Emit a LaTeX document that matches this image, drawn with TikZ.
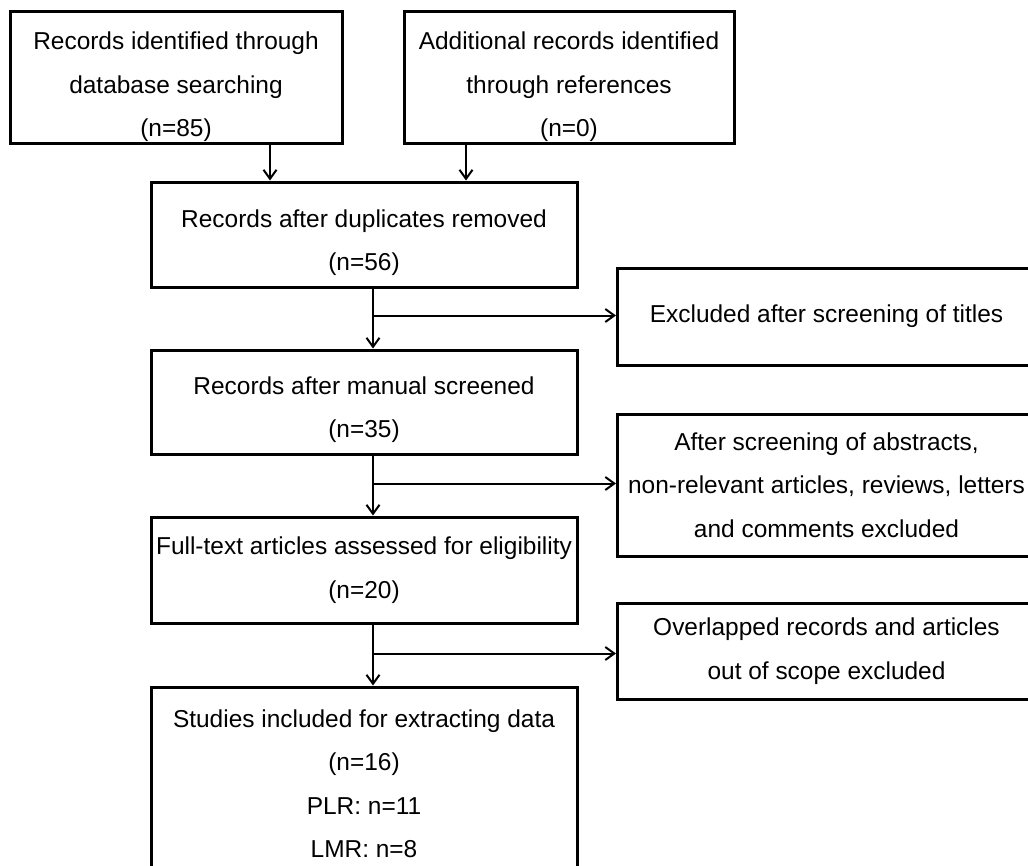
\documentclass[tikz,border=0pt]{standalone}
\usepackage{fontspec}
\setmainfont{Liberation Sans}
\usetikzlibrary{arrows.meta}
\newcommand\dropby[1]{\rule{0pt}{#1}}

\begin{document}
\begin{tikzpicture}[x=1pt,y=-1pt,every text node part/.style={align=center},
		box/.style={draw,line width=3pt,inner sep=0pt,font=\fontsize{24.45}{43.5}\selectfont},
		sidebox/.style={box,minimum width=418pt,anchor=west},
		arr/.style={line width=2pt,-{Straight Barb[length=9pt,width=13pt]}}]
		\useasboundingbox (0,0) rectangle (1028,865);
		\clip (0,0) rectangle (1028,865);
		% identification
		\node[box,minimum width=332pt,minimum height=132pt] (idb) at (176,77) {\dropby{38pt}Records identified through\\database searching\\(n=85)};
		\node[box,minimum width=330pt,minimum height=132pt] (iref) at (569,77) {\dropby{38pt}Additional records identified\\through references\\(n=0)};
		% main column
		\node[box,minimum width=426pt,minimum height=105pt] (dup) at (364,234.5) {\dropby{34pt}Records after duplicates removed\\(n=56)};
		\node[box,minimum width=426pt,minimum height=104pt] (screen) at (364,402) {\dropby{33pt}Records after manual screened\\(n=35)};
		\node[box,minimum width=426pt,minimum height=106pt] (full) at (364,570) {Full-text articles assessed for eligibility\\(n=20)};
		\node[box,minimum width=426pt,minimum height=193pt] (incl) at (364,783.5) {Studies included for extracting data\\(n=16)\\PLR: n=11\\LMR: n=8};
		% exclusions
		\node[sidebox,minimum height=97pt] (extitle) at (616,316.5) {Excluded after screening of titles};
		\node[sidebox,minimum height=142pt] (exabs) at (616,485) {After screening of abstracts,\\non-relevant articles, reviews, letters\\and comments excluded};
		\node[sidebox,minimum height=96pt] (exscope) at (616,651) {Overlapped records and articles\\out of scope excluded};
		% connectors
		\draw[arr] ([shift={(94,0)}]idb.south) -- ([shift={(94,0)}]idb.south |- dup.north);
		\draw[arr] ([shift={(-103,0)}]iref.south) -- ([shift={(-103,0)}]iref.south |- dup.north);
		\path ([shift={(9,0)}]dup.south) ++(0,27) coordinate (j1);
		\path ([shift={(9,0)}]screen.south) ++(0,28) coordinate (j2);
		\path ([shift={(9,0)}]full.south) ++(0,29) coordinate (j3);
		\draw[arr] ([shift={(9,0)}]dup.south) -- ([shift={(9,0)}]dup.south |- screen.north);
		\draw[arr] ([shift={(9,0)}]screen.south) -- ([shift={(9,0)}]screen.south |- full.north);
		\draw[arr] ([shift={(9,0)}]full.south) -- ([shift={(9,0)}]full.south |- incl.north);
		\draw[arr] (j1) -- (j1 -| extitle.west);
		\draw[arr] (j2) -- (j2 -| exabs.west);
		\draw[arr] (j3) -- (j3 -| exscope.west);
\end{tikzpicture}
\end{document}
